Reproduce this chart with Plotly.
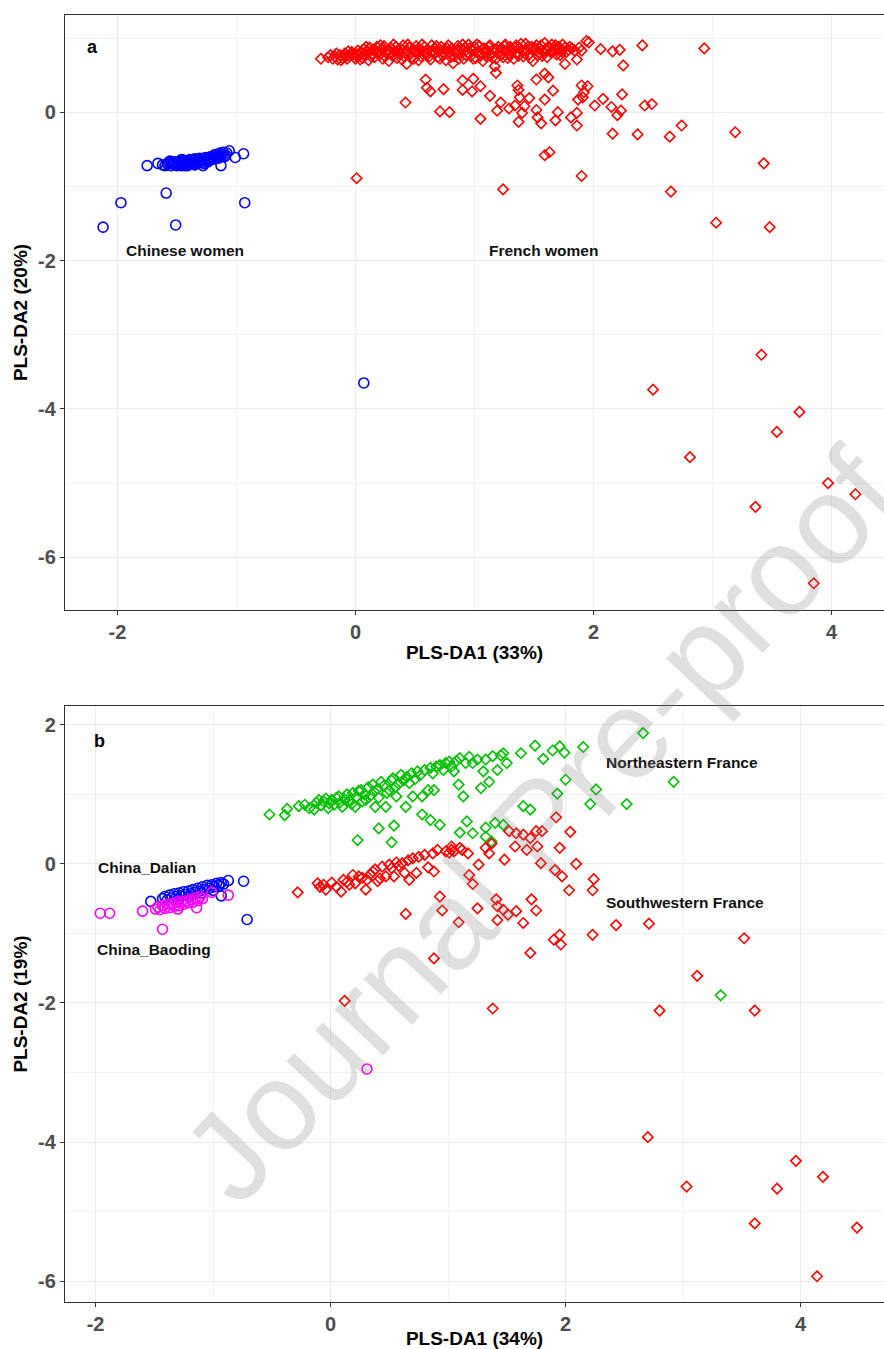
import plotly.graph_objects as go

# ---------------- Panel a data ----------------
a_chinese = [
    (-1.75, -0.72), (-1.66, -0.69), (-1.62, -0.71), (-1.60, -0.72), (-1.58, -0.70), (-1.57, -0.68),
    (-1.55, -0.72), (-1.54, -0.69), (-1.52, -0.67), (-1.51, -0.71), (-1.50, -0.72), (-1.49, -0.68),
    (-1.48, -0.66), (-1.47, -0.70), (-1.46, -0.72), (-1.45, -0.67), (-1.44, -0.65), (-1.43, -0.69),
    (-1.42, -0.71), (-1.41, -0.72), (-1.40, -0.66), (-1.39, -0.64), (-1.38, -0.68), (-1.37, -0.70),
    (-1.36, -0.65), (-1.35, -0.63), (-1.34, -0.67), (-1.33, -0.69), (-1.32, -0.64), (-1.31, -0.62),
    (-1.30, -0.66), (-1.29, -0.68), (-1.28, -0.72), (-1.27, -0.63), (-1.26, -0.61), (-1.25, -0.65),
    (-1.24, -0.67), (-1.23, -0.62), (-1.22, -0.60), (-1.21, -0.64), (-1.20, -0.61), (-1.19, -0.59),
    (-1.18, -0.57), (-1.17, -0.62), (-1.16, -0.60), (-1.15, -0.58), (-1.13, -0.72), (-1.13, -0.60),
    (-1.12, -0.57), (-1.11, -0.54), (-1.09, -0.58), (-1.06, -0.52), (-1.01, -0.61), (-0.94, -0.56),
    (-1.56, -0.66), (-1.53, -0.70), (-1.46, -0.64), (-1.43, -0.72), (-1.39, -0.70), (-1.35, -0.71),
    (-1.31, -0.66), (-1.27, -0.69), (-1.23, -0.65), (-1.19, -0.63), (-1.15, -0.62), (-1.14, -0.55),
    (-1.10, -0.60), (-1.08, -0.55),
    (-1.97, -1.22), (-2.12, -1.55), (-1.59, -1.09), (-1.51, -1.52), (-0.93, -1.22), (0.07, -3.65),
]

a_french = [
    (-0.29, 0.72), (-0.19, 0.72), (-0.17, 0.75), (-0.15, 0.71), (-0.13, 0.77), (-0.11, 0.73),
    (-0.09, 0.79), (-0.07, 0.72), (-0.05, 0.76), (-0.03, 0.81), (-0.01, 0.74), (0.01, 0.78),
    (0.02, 0.83), (0.04, 0.71), (0.05, 0.80), (0.07, 0.85), (0.08, 0.76), (0.10, 0.82),
    (0.11, 0.70), (0.12, 0.87), (0.14, 0.79), (0.15, 0.84), (0.16, 0.74), (0.18, 0.88),
    (0.19, 0.81), (0.20, 0.77), (0.22, 0.85), (0.23, 0.72), (0.24, 0.89), (0.26, 0.80),
    (0.27, 0.83), (0.28, 0.69), (0.30, 0.86), (0.31, 0.76), (0.33, 0.82), (0.34, 0.88),
    (0.35, 0.73), (0.37, 0.79), (0.38, 0.85), (0.40, 0.90), (0.41, 0.75), (0.43, 0.65),
    (0.43, 0.82), (0.45, 0.87), (0.46, 0.78), (0.48, 0.84), (0.49, 0.72), (0.51, 0.89),
    (0.52, 0.80), (0.54, 0.85), (0.55, 0.75), (0.57, 0.82), (0.58, 0.88), (0.60, 0.77),
    (0.61, 0.84), (0.63, 0.71), (0.64, 0.90), (0.66, 0.79), (0.67, 0.86), (0.69, 0.74),
    (0.70, 0.82), (0.72, 0.88), (0.73, 0.77), (0.75, 0.84), (0.76, 0.70), (0.78, 0.90),
    (0.79, 0.80), (0.81, 0.86), (0.82, 0.66), (0.83, 0.75), (0.85, 0.83), (0.86, 0.89),
    (0.88, 0.78), (0.89, 0.85), (0.91, 0.72), (0.92, 0.87), (0.94, 0.80), (0.95, 0.91),
    (0.97, 0.76), (0.98, 0.84), (1.00, 0.88), (1.01, 0.73), (1.03, 0.82), (1.04, 0.89),
    (1.06, 0.79), (1.07, 0.69), (1.08, 0.86), (1.10, 0.75), (1.11, 0.83), (1.13, 0.90),
    (1.14, 0.77), (1.16, 0.85), (1.17, 0.62), (1.18, 0.53), (1.18, 0.72), (1.20, 0.88),
    (1.21, 0.80), (1.23, 0.86), (1.24, 0.74), (1.26, 0.91), (1.27, 0.82), (1.29, 0.77),
    (1.30, 0.88), (1.32, 0.84), (1.33, 0.72), (1.35, 0.90), (1.36, 0.79), (1.38, 0.86),
    (1.40, 0.82), (1.41, 0.75), (1.43, 0.92), (1.44, 0.84), (1.46, 0.78), (1.48, 0.88),
    (1.49, 0.69), (1.50, 0.83), (1.52, 0.90), (1.54, 0.80), (1.55, 0.86), (1.57, 0.76),
    (1.59, 0.93), (1.60, 0.84), (1.62, 0.88), (1.64, 0.81), (1.65, 0.91), (1.67, 0.85),
    (1.69, 0.78), (1.71, 0.88), (1.73, 0.82), (1.76, 0.65), (1.76, 0.87), (1.79, 0.84),
    (1.82, 0.86), (1.86, 0.71), (1.90, 0.83), (1.94, 0.96), (1.96, 0.94), (2.06, 0.85),
    (2.16, 0.82), (2.22, 0.84), (2.25, 0.63), (2.41, 0.90), (2.93, 0.86),
    (-0.23, 0.74), (-0.21, 0.77), (-0.16, 0.79), (-0.12, 0.70), (-0.08, 0.75), (-0.06, 0.82),
    (-0.02, 0.78), (0.00, 0.72), (0.03, 0.76), (0.06, 0.73), (0.09, 0.88), (0.13, 0.75),
    (0.17, 0.82), (0.21, 0.90), (0.25, 0.75), (0.29, 0.80), (0.32, 0.91), (0.36, 0.84),
    (0.39, 0.71), (0.42, 0.79), (0.44, 0.91), (0.47, 0.73), (0.50, 0.83), (0.53, 0.70),
    (0.56, 0.91), (0.59, 0.80), (0.62, 0.75), (0.65, 0.83), (0.68, 0.89), (0.71, 0.72),
    (0.74, 0.80), (0.77, 0.86), (0.80, 0.74), (0.84, 0.80), (0.87, 0.72), (0.90, 0.91),
    (0.93, 0.77), (0.96, 0.86), (0.99, 0.72), (1.02, 0.91), (1.05, 0.76), (1.09, 0.81),
    (1.12, 0.88), (1.15, 0.73), (1.19, 0.84), (1.22, 0.77), (1.25, 0.89), (1.28, 0.73),
    (1.31, 0.81), (1.34, 0.87), (1.37, 0.76), (1.39, 0.92), (1.42, 0.80), (1.45, 0.88),
    (1.47, 0.73), (1.51, 0.86), (1.53, 0.77), (1.56, 0.90), (1.58, 0.81), (1.61, 0.74),
    (1.63, 0.87), (1.66, 0.82), (1.68, 0.90), (1.70, 0.84), (1.72, 0.77), (1.74, 0.91),
    (1.77, 0.81), (1.80, 0.88), (1.84, 0.83), (1.88, 0.87),
    (0.42, 0.13), (0.59, 0.44), (0.60, 0.33), (0.63, 0.28), (0.74, 0.31), (0.71, 0.01),
    (0.79, 0.00), (0.90, 0.43), (0.90, 0.30), (0.99, 0.45), (0.98, 0.28), (1.05, 0.35),
    (1.05, -0.09), (1.13, 0.22), (1.19, 0.02), (1.22, 0.13), (1.29, 0.05), (1.34, 0.09),
    (1.36, 0.36), (1.37, 0.30), (1.38, 0.20), (1.40, -0.01), (1.37, -0.13), (1.42, 0.08),
    (1.46, 0.19), (1.52, 0.44), (1.52, 0.03), (1.53, -0.07), (1.56, -0.15), (1.59, 0.52),
    (1.62, 0.47), (1.59, 0.17), (1.66, 0.29), (1.68, -0.11), (1.70, 0.00), (1.81, -0.07),
    (1.86, -0.01), (1.86, -0.18), (1.87, 0.17), (1.90, 0.36), (1.95, 0.35), (1.92, 0.27),
    (1.91, 0.20), (2.01, 0.09), (2.08, 0.18), (2.15, 0.07), (2.20, -0.04), (2.23, 0.02),
    (2.24, 0.24), (2.16, -0.29), (2.37, -0.30), (2.64, -0.33), (2.43, 0.09), (2.49, 0.11),
    (2.74, -0.18), (3.19, -0.27), (1.59, -0.58), (1.63, -0.54), (0.01, -0.89), (1.24, -1.04),
    (1.90, -0.86), (2.65, -1.07), (3.43, -0.69), (3.03, -1.49), (3.48, -1.55),
    (2.50, -3.74), (3.41, -3.27), (3.73, -4.04), (3.54, -4.31), (2.81, -4.65), (3.97, -5.00),
    (4.20, -5.15), (3.36, -5.32), (3.85, -6.35),
]

# ---------------- Panel b data ----------------
b_dalian = [
    (-1.53, -0.54), (-1.43, -0.50), (-1.41, -0.47), (-1.39, -0.52), (-1.37, -0.45), (-1.35, -0.49),
    (-1.33, -0.43), (-1.31, -0.47), (-1.29, -0.42), (-1.27, -0.46), (-1.25, -0.40), (-1.23, -0.44),
    (-1.21, -0.39), (-1.19, -0.43), (-1.17, -0.37), (-1.15, -0.41), (-1.13, -0.35), (-1.11, -0.39),
    (-1.09, -0.33), (-1.07, -0.37), (-1.05, -0.31), (-1.03, -0.35), (-1.01, -0.30), (-0.99, -0.33),
    (-0.97, -0.28), (-0.95, -0.31), (-0.93, -0.27), (-0.91, -0.29), (-0.87, -0.24), (-0.93, -0.46),
    (-0.74, -0.25), (-0.71, -0.80), (-1.30, -0.51), (-1.20, -0.47), (-1.10, -0.42), (-1.00, -0.38),
]

b_baoding = [
    (-1.96, -0.71), (-1.88, -0.71), (-1.60, -0.68), (-1.43, -0.94), (-1.49, -0.65), (-1.47, -0.62),
    (-1.45, -0.66), (-1.43, -0.60), (-1.41, -0.64), (-1.39, -0.58), (-1.37, -0.63), (-1.35, -0.57),
    (-1.33, -0.61), (-1.31, -0.55), (-1.29, -0.60), (-1.27, -0.54), (-1.25, -0.58), (-1.23, -0.53),
    (-1.21, -0.56), (-1.19, -0.51), (-1.17, -0.55), (-1.15, -0.49), (-1.13, -0.53), (-1.11, -0.47),
    (-1.09, -0.50), (-1.14, -0.63), (-1.30, -0.65), (-1.01, -0.41), (-0.87, -0.45), (0.31, -2.95),
]

b_northeast = [
    (-0.52, 0.71), (-0.39, 0.70), (-0.37, 0.79), (-0.27, 0.83), (-0.22, 0.85), (-0.18, 0.80),
    (-0.14, 0.78), (-0.12, 0.88), (-0.10, 0.92), (-0.08, 0.84), (-0.06, 0.90), (-0.04, 0.94),
    (-0.02, 0.80), (-0.01, 0.87), (0.01, 0.92), (0.03, 0.85), (0.05, 0.95), (0.07, 0.97),
    (0.08, 0.88), (0.10, 0.82), (0.12, 0.93), (0.14, 1.00), (0.16, 0.92), (0.18, 0.86),
    (0.19, 1.02), (0.21, 0.82), (0.22, 0.96), (0.24, 1.05), (0.26, 1.06), (0.27, 0.90),
    (0.29, 1.00), (0.30, 0.92), (0.32, 1.10), (0.34, 0.98), (0.36, 1.14), (0.37, 1.04),
    (0.38, 0.82), (0.40, 1.08), (0.41, 0.95), (0.43, 1.18), (0.45, 1.12), (0.47, 0.82),
    (0.48, 1.02), (0.50, 1.06), (0.52, 1.20), (0.53, 1.23), (0.55, 1.10), (0.56, 0.97),
    (0.58, 1.15), (0.60, 1.28), (0.62, 1.20), (0.64, 0.82), (0.65, 1.25), (0.67, 1.16),
    (0.69, 1.30), (0.70, 0.97), (0.72, 1.22), (0.74, 1.33), (0.76, 1.27), (0.78, 0.97),
    (0.80, 1.35), (0.83, 1.06), (0.85, 1.38), (0.87, 1.30), (0.88, 1.06), (0.90, 1.40),
    (0.93, 1.42), (0.96, 1.35), (0.98, 1.45), (1.01, 1.47), (1.03, 1.40), (1.05, 1.33),
    (1.07, 1.48), (1.09, 1.14), (1.10, 1.52), (1.13, 0.97), (1.15, 1.45), (1.18, 1.54),
    (1.21, 1.45), (1.25, 1.50), (1.28, 1.09), (1.30, 1.33), (1.32, 1.50), (1.35, 1.18),
    (1.38, 1.55), (1.42, 1.35), (1.45, 1.56), (1.47, 1.59), (1.50, 1.45), (1.62, 1.59),
    (1.74, 1.70), (1.81, 1.51), (1.89, 1.63), (1.95, 1.69), (1.99, 1.60), (2.15, 1.68),
    (2.66, 1.88), (2.00, 1.21), (1.93, 1.01), (2.26, 1.07), (2.21, 0.86), (2.52, 0.86),
    (2.92, 1.18), (1.64, 0.83), (1.70, 0.78), (0.23, 0.34), (0.41, 0.51), (0.54, 0.55),
    (0.52, 0.31), (0.78, 0.71), (0.85, 0.63), (0.93, 0.56), (1.10, 0.45), (1.16, 0.61),
    (1.21, 0.44), (1.32, 0.52), (1.32, 0.39), (1.40, 0.59), (1.47, 0.56), (1.37, 0.32),
    (3.32, -1.89),
]

b_southwest = [
    (-0.28, -0.41), (-0.11, -0.28), (-0.09, -0.33), (-0.04, -0.37), (0.01, -0.27), (0.09, -0.40),
    (0.11, -0.23), (0.16, -0.30), (0.19, -0.16), (0.24, -0.18), (0.30, -0.37), (0.31, -0.23),
    (0.36, -0.11), (0.40, -0.25), (0.44, -0.04), (0.47, -0.18), (0.50, -0.01), (0.54, -0.18),
    (0.56, 0.02), (0.61, 0.01), (0.63, -0.13), (0.67, -0.23), (0.70, 0.08), (0.73, -0.13),
    (0.80, 0.13), (0.87, 0.15), (0.88, -0.11), (0.98, 0.18), (1.03, 0.25), (1.05, 0.18),
    (1.10, 0.23), (1.17, 0.15), (1.18, -0.16), (1.21, -0.29), (1.26, -0.01), (1.32, 0.23),
    (1.35, 0.15), (1.37, 0.29), (1.48, 0.06), (1.52, 0.47), (1.57, 0.25), (1.58, 0.44),
    (1.64, 0.42), (1.67, 0.20), (1.70, 0.37), (1.75, 0.47), (1.76, 0.25), (1.80, 0.47),
    (1.79, 0.01), (1.92, 0.67), (2.04, 0.46), (1.95, 0.23), (1.91, -0.09), (1.97, -0.18),
    (2.09, 0.00), (2.24, -0.22), (2.23, -0.38), (2.03, -0.38), (0.93, -0.47), (0.95, -0.67),
    (0.64, -0.72), (1.09, -0.84), (1.25, -0.64), (1.41, -0.51), (1.42, -0.61), (1.42, -0.81),
    (1.47, -0.66), (1.51, -0.73), (1.58, -0.68), (1.64, -0.85), (1.71, -0.51), (1.75, -0.67),
    (1.90, -1.09), (1.95, -1.02), (1.96, -1.16), (1.70, -1.28), (2.23, -1.02), (2.43, -0.88),
    (2.71, -0.86), (0.88, -1.36), (3.52, -1.07), (3.12, -1.61), (0.12, -1.97), (1.38, -2.08),
    (2.80, -2.11), (3.61, -2.11), (2.70, -3.93), (3.96, -4.27), (4.19, -4.50), (3.03, -4.64),
    (3.80, -4.67), (3.61, -5.17), (4.48, -5.23), (4.14, -5.93),
    (-0.06, -0.30), (0.05, -0.33), (0.14, -0.26), (0.21, -0.28), (0.27, -0.20), (0.34, -0.15),
    (0.38, -0.08), (0.42, -0.21), (0.52, -0.06), (0.58, -0.03), (0.66, 0.05), (0.75, 0.10),
    (0.83, -0.05), (0.91, 0.20), (1.01, 0.16), (1.12, 0.20), (1.03, 0.20),
]

# ---------------- Text / ticks ----------------
panel_a_xtitle = "PLS-DA1 (33%)"
panel_a_ytitle = "PLS-DA2 (20%)"
panel_b_xtitle = "PLS-DA1 (34%)"
panel_b_ytitle = "PLS-DA2 (19%)"
x_ticks = [-2, 0, 2, 4]
a_y_ticks = [-6, -4, -2, 0]
b_y_ticks = [-6, -4, -2, 0, 2]

FONT = "Liberation Sans, Arial, sans-serif"
BLUE = "#0000FF"
RED = "#FF0000"
GREEN = "#00C000"
MAGENTA = "#FF00FF"

fig = go.Figure()


def add(points, color, symbol, size, xa, ya):
    fig.add_trace(go.Scatter(
        x=[p[0] for p in points], y=[p[1] for p in points],
        mode="markers", xaxis=xa, yaxis=ya, showlegend=False,
        marker=dict(symbol=symbol, size=size, color=color,
                    line=dict(color=color, width=1.6)),
    ))


add(a_french, RED, "diamond-open", 8, "x", "y")
add(a_chinese, BLUE, "circle-open", 10, "x", "y")
add(b_northeast, GREEN, "diamond-open", 8, "x2", "y2")
add(b_southwest, RED, "diamond-open", 8, "x2", "y2")
add(b_dalian, BLUE, "circle-open", 10, "x2", "y2")
add(b_baoding, MAGENTA, "circle-open", 10, "x2", "y2")


def tick_text(vals):
    return ["<b>%d</b>" % v for v in vals]


common = dict(
    showgrid=True, gridcolor="#EBEBEB", gridwidth=1.1, zeroline=False,
    showline=True, linecolor="#333333", linewidth=1.3,
    ticks="outside", ticklen=4, tickcolor="#333333", tickwidth=1,
    tickfont=dict(family=FONT, size=20, color="#4D4D4D"),
    minor=dict(tickmode="linear", tick0=1, dtick=2, showgrid=True,
               gridcolor="#F2F2F2", gridwidth=0.8),
    tickmode="array",
)
title_font = dict(family=FONT, size=19, color="#000000", weight="bold")

fig.update_layout(
    width=884, height=1349,
    margin=dict(l=65, r=0, t=15, b=47),
    paper_bgcolor="white", plot_bgcolor="white",
    xaxis=dict(common, domain=[0, 1], anchor="y", range=[-2.44, 4.44], mirror=True,
               tickvals=x_ticks, ticktext=tick_text(x_ticks),
               title=dict(text=panel_a_xtitle, font=title_font, standoff=3)),
    yaxis=dict(common, domain=[0.5377, 1], anchor="x", range=[-6.71, 1.31],
               tickvals=a_y_ticks, ticktext=tick_text(a_y_ticks),
               title=dict(text=panel_a_ytitle, font=title_font, standoff=5)),
    xaxis2=dict(common, domain=[0, 1], anchor="y2", range=[-2.26, 4.71], mirror=True,
                tickvals=x_ticks, ticktext=tick_text(x_ticks),
                title=dict(text=panel_b_xtitle, font=title_font, standoff=1)),
    yaxis2=dict(common, domain=[0, 0.4631], anchor="x2", range=[-6.30, 2.27],
                tickvals=b_y_ticks, ticktext=tick_text(b_y_ticks),
                title=dict(text=panel_b_ytitle, font=title_font, standoff=5)),
)

lab_font = dict(family=FONT, size=15.5, color="#111111", weight="bold")
labels = [
    ("x", "y", -1.43, -1.86, "Chinese women"),
    ("x", "y", 1.58, -1.86, "French women"),
    ("x2", "y2", 2.99, 1.46, "Northeastern France"),
    ("x2", "y2", 3.02, -0.55, "Southwestern France"),
    ("x2", "y2", -1.56, -0.05, "China_Dalian"),
    ("x2", "y2", -1.50, -1.23, "China_Baoding"),
]
for xr, yr, x, y, t in labels:
    fig.add_annotation(xref=xr, yref=yr, x=x, y=y, text=t, showarrow=False,
                       font=lab_font, xanchor="center", yanchor="middle")

panel_font = dict(family=FONT, size=18, color="#000000", weight="bold")
fig.add_annotation(xref="x", yref="y", x=-2.21, y=0.88, text="a", showarrow=False,
                   font=panel_font, xanchor="center", yanchor="middle")
fig.add_annotation(xref="x2", yref="y2", x=-1.97, y=1.77, text="b", showarrow=False,
                   font=panel_font, xanchor="center", yanchor="middle")

# watermark
fig.add_annotation(xref="paper", yref="paper", x=0.58, y=0.3706, text="Journal Pre-proof",
                   showarrow=False, textangle=-46.7,
                   font=dict(family=FONT, size=126, color="rgba(128,128,128,0.25)"),
                   xanchor="center", yanchor="middle")

fig.write_html("out.html", config={"displayModeBar": False},
               post_script="document.body.style.margin='0';document.body.style.overflow='hidden';")
